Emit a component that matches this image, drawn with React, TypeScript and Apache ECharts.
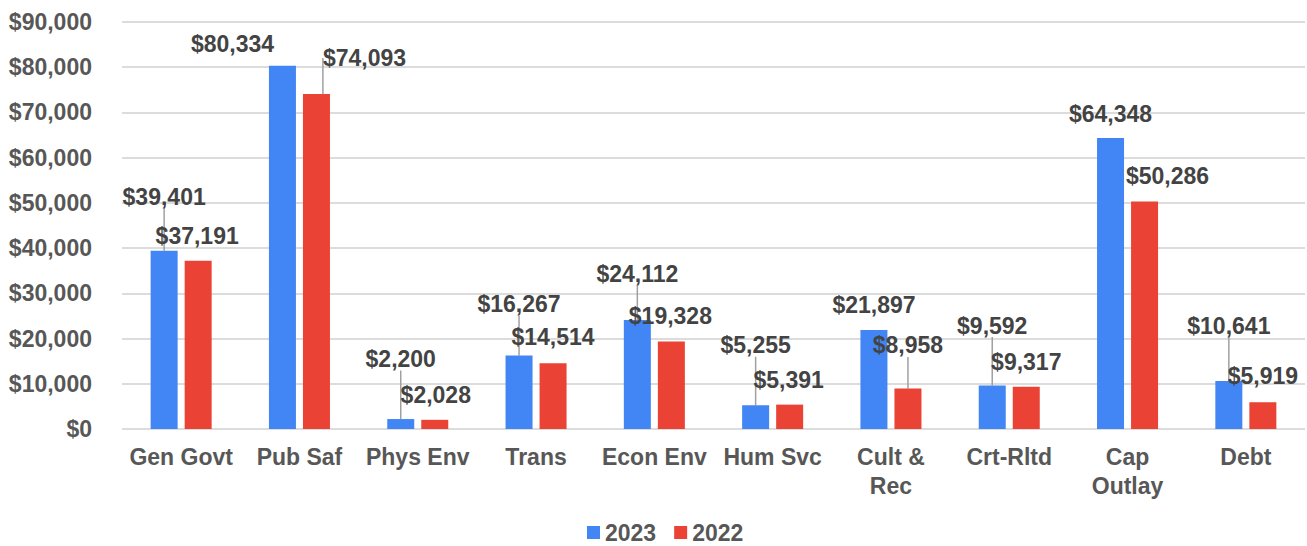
import React, { useEffect, useRef } from "react";
import * as echarts from "echarts";

const categories = [
  "Gen Govt",
  "Pub Saf",
  "Phys Env",
  "Trans",
  "Econ Env",
  "Hum Svc",
  "Cult &\nRec",
  "Crt-Rltd",
  "Cap\nOutlay",
  "Debt",
];
const seriesNames = ["2023", "2022"];
const values2023 = [39401, 80334, 2200, 16267, 24112, 5255, 21897, 9592, 64348, 10641];
const values2022 = [37191, 74093, 2028, 14514, 19328, 5391, 8958, 9317, 50286, 5919];
const yMin = 0;
const yMax = 90000;
const yInterval = 10000;

// label placement (style only): horizontal shift from bar centre, lift above bar top, leader line
const labelDx2023 = [0, -50, 0, 0, 0, 0, 0, 0, 0, 0];
const labelUp2023 = [54, 22, 60, 51, 46, 60, 25, 60, 24, 55];
const leader2023 = [true, false, true, true, true, true, false, true, false, true];
const labelDx2022 = [-1, 48, 1, 0, -1, -1, 0, 0, 23, 0];
const labelUp2022 = [25, 36, 25, 26, 26, 25, 43, 25, 26, 26];
const leader2022 = [false, true, false, false, false, false, true, false, false, false];

const FONT = "'Liberation Sans', Arial, sans-serif";
const AXIS_COLOR = "#575757";
const LABEL_COLOR = "#434343";

const money = (v: number) => "$" + Number(v).toLocaleString("en-US");

export default function App() {
  const ref = useRef<HTMLDivElement>(null);

  useEffect(() => {
    if (!ref.current) return;
    const chart = echarts.init(ref.current, null, { renderer: "svg" });

    const makeSeries = (
      name: string,
      values: number[],
      color: string,
      dx: number[],
      up: number[],
      leader: boolean[]
    ) => ({
      name,
      type: "bar",
      barWidth: 27,
      barGap: "26%",
      itemStyle: { color },
      data: values.map((v, i) => ({ value: v, labelLine: { show: leader[i] } })),
      label: {
        show: true,
        position: "top",
        formatter: (p: any) => money(p.value),
        fontFamily: FONT,
        fontWeight: "bold",
        fontSize: 23,
        color: LABEL_COLOR,
      },
      labelLine: {
        show: false,
        length2: 0,
        lineStyle: { color: "#a0a0a0", width: 1.5 },
      },
      labelLayout: (p: any) => {
        const i = p.dataIndex;
        const bx = p.rect.x + p.rect.width / 2;
        return {
          x: bx + dx[i],
          y: p.rect.y - up[i],
          align: "center",
          verticalAlign: "middle",
        };
      },
    });

    chart.setOption({
      animation: false,
      color: ["#4285F4", "#EA4335"],
      grid: { left: 122, right: 2, top: 22, bottom: 117, containLabel: false },
      legend: {
        data: seriesNames,
        top: 521,
        left: 587,
        padding: 0,
        icon: "rect",
        itemWidth: 13,
        itemHeight: 13,
        itemGap: 18,
        textStyle: {
          fontFamily: FONT,
          fontWeight: "bold",
          fontSize: 23,
          color: AXIS_COLOR,
        },
      },
      xAxis: {
        type: "category",
        data: categories,
        axisLine: { show: false },
        axisTick: { show: false },
        axisLabel: {
          interval: 0,
          margin: 13,
          fontFamily: FONT,
          fontWeight: "bold",
          fontSize: 23,
          lineHeight: 29,
          color: AXIS_COLOR,
        },
      },
      yAxis: {
        type: "value",
        min: yMin,
        max: yMax,
        interval: yInterval,
        axisLine: { show: false },
        axisTick: { show: false },
        splitLine: { lineStyle: { color: "#dcdcdc", width: 2 } },
        axisLabel: {
          margin: 30,
          formatter: (v: number) => money(v),
          fontFamily: FONT,
          fontWeight: "bold",
          fontSize: 23,
          color: AXIS_COLOR,
        },
      },
      series: [
        makeSeries(seriesNames[0], values2023, "#4285F4", labelDx2023, labelUp2023, leader2023),
        makeSeries(seriesNames[1], values2022, "#EA4335", labelDx2022, labelUp2022, leader2022),
      ],
    });

    return () => chart.dispose();
  }, []);

  return (
    <div
      ref={ref}
      style={{ position: "absolute", left: 0, top: 0, width: 1307, height: 546, background: "#fff" }}
    />
  );
}
